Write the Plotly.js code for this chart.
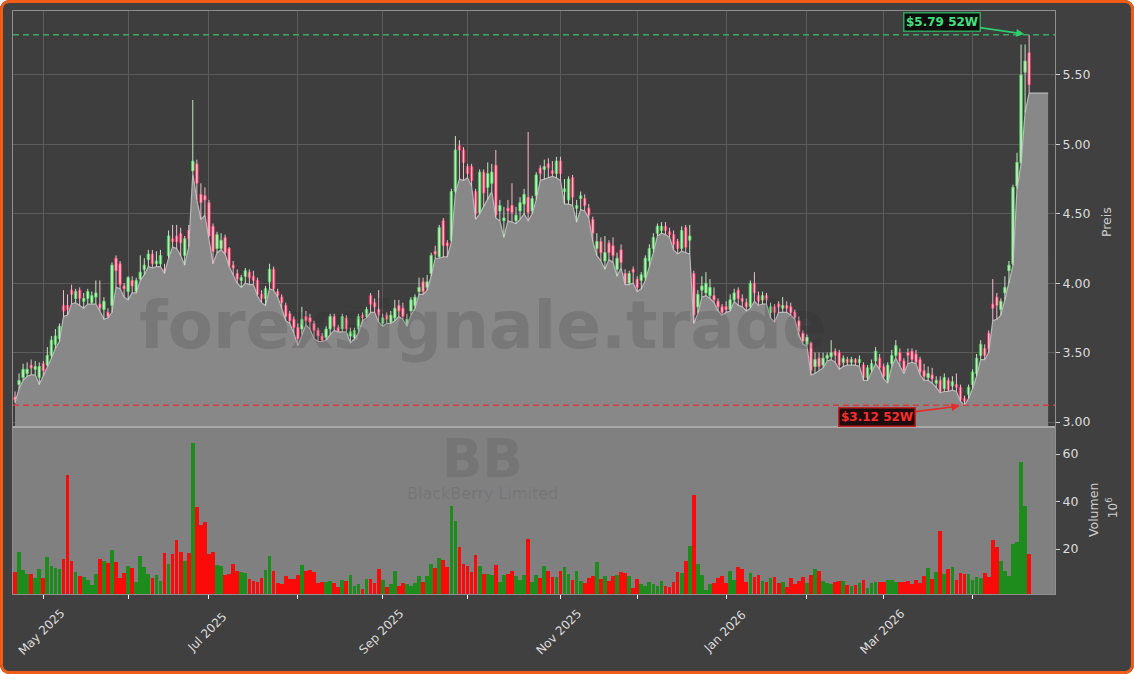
<!DOCTYPE html>
<html><head><meta charset="utf-8">
<script src="https://cdn.plot.ly/plotly-3.0.1.min.js"></script>
<style>
html,body{margin:0;padding:0;background:#ffffff;}
#wrap{position:relative;width:1134px;height:674px;border-radius:9px;overflow:hidden;}
#chart{width:1134px;height:674px;}
#frame{position:absolute;left:0;top:0;width:1134px;height:674px;box-sizing:border-box;border:3px solid #f25c14;border-radius:9px;pointer-events:none;}
</style>
</head><body>
<div id="wrap"><div id="chart"></div><div id="frame"></div></div>
<script>
// ---- data (BlackBerry Limited, daily, 2025-04-22 .. 2026-04-22) ----
const startDate = '2025-04-22';
const holidays = ['2025-05-26','2025-06-19','2025-07-04','2025-09-01','2025-11-27','2025-12-25','2026-01-01','2026-01-19','2026-02-16','2026-04-03'];

const openP = [3.18,3.27,3.32,3.35,3.41,3.38,3.32,3.42,3.41,3.48,
3.56,3.60,3.84,3.84,3.95,3.89,3.95,3.87,3.89,3.86,
3.90,3.85,3.81,3.79,3.84,4.18,4.14,3.98,3.94,4.02,
3.94,4.03,4.10,4.17,4.21,4.14,4.14,4.10,4.20,4.32,
4.34,4.36,4.20,4.38,4.81,4.86,4.64,4.63,4.58,4.41,
4.25,4.25,4.33,4.25,4.13,4.07,4.02,4.05,4.08,4.05,
4.02,3.92,3.89,4.01,4.10,3.94,3.90,3.84,3.78,3.74,
3.68,3.67,3.76,3.75,3.71,3.66,3.62,3.61,3.67,3.76,
3.68,3.67,3.75,3.62,3.61,3.67,3.77,3.76,3.91,3.86,
3.81,3.71,3.77,3.72,3.75,3.84,3.82,3.70,3.80,3.84,
3.94,4.01,3.97,4.07,4.23,4.19,4.45,4.29,4.31,4.66,
4.99,4.96,4.84,4.84,4.66,4.51,4.80,4.69,4.72,4.85,
4.52,4.45,4.54,4.56,4.45,4.52,4.57,4.62,4.52,4.63,
4.83,4.82,4.86,4.81,4.79,4.88,4.66,4.60,4.76,4.54,
4.61,4.61,4.54,4.46,4.25,4.30,4.16,4.29,4.27,4.10,
4.24,4.07,4.00,4.10,4.03,4.02,4.04,4.16,4.25,4.36,
4.38,4.41,4.37,4.35,4.30,4.25,4.40,4.31,4.07,3.83,
3.95,3.93,3.91,3.91,3.87,3.83,3.83,3.81,3.88,3.95,
3.89,3.86,3.83,4.00,3.91,3.88,3.91,3.79,3.83,3.85,
3.82,3.84,3.83,3.79,3.73,3.64,3.56,3.57,3.40,3.46,
3.41,3.46,3.47,3.51,3.50,3.43,3.45,3.43,3.45,3.43,
3.41,3.32,3.38,3.44,3.46,3.40,3.30,3.42,3.48,3.50,
3.44,3.50,3.51,3.49,3.45,3.37,3.32,3.34,3.28,3.30,
3.24,3.30,3.26,3.27,3.25,3.17,3.20,3.27,3.35,3.48,
3.53,3.64,3.85,3.90,3.81,3.93,4.09,4.14,4.70,4.87,
5.52,5.66];

const highP = [3.22,3.35,3.42,3.43,3.45,3.44,3.43,3.44,3.54,3.62,
3.67,3.71,3.95,3.92,3.99,3.96,3.97,3.93,3.96,3.94,
4.02,4.02,3.90,3.82,4.15,4.20,4.16,4.00,4.05,4.05,
4.04,4.20,4.18,4.24,4.24,4.23,4.24,4.14,4.38,4.42,
4.42,4.40,4.34,4.42,5.32,4.89,4.72,4.69,4.60,4.43,
4.37,4.36,4.35,4.26,4.16,4.10,4.06,4.11,4.10,4.09,
4.04,3.95,3.98,4.14,4.12,3.96,3.92,3.86,3.80,3.76,
3.71,3.83,3.80,3.78,3.73,3.68,3.64,3.69,3.78,3.78,
3.70,3.78,3.77,3.68,3.68,3.78,3.79,3.83,3.93,3.89,
3.95,3.78,3.79,3.80,3.88,3.88,3.86,3.78,3.90,3.92,
4.04,4.04,4.06,4.22,4.27,4.42,4.47,4.31,4.68,5.06,
5.03,4.98,4.86,4.86,4.68,4.82,4.82,4.87,4.86,4.96,
4.60,4.55,4.60,4.72,4.55,4.62,4.68,5.09,4.63,4.80,
4.85,4.89,4.90,4.88,4.91,4.91,4.75,4.77,4.78,4.60,
4.66,4.64,4.57,4.48,4.36,4.33,4.34,4.31,4.33,4.22,
4.28,4.10,4.09,4.12,4.05,4.08,4.20,4.28,4.36,4.43,
4.44,4.44,4.40,4.38,4.32,4.41,4.42,4.42,4.09,3.95,
4.05,4.08,4.03,3.97,3.89,3.85,3.87,3.92,3.96,3.97,
3.92,3.89,4.02,4.08,3.94,3.94,3.93,3.86,3.85,3.87,
3.90,3.87,3.86,3.81,3.76,3.66,3.63,3.58,3.50,3.50,
3.50,3.50,3.59,3.53,3.52,3.48,3.47,3.47,3.46,3.48,
3.43,3.41,3.45,3.54,3.49,3.42,3.43,3.52,3.59,3.53,
3.46,3.53,3.53,3.52,3.47,3.42,3.40,3.39,3.33,3.33,
3.35,3.32,3.33,3.35,3.27,3.19,3.27,3.38,3.49,3.59,
3.56,3.66,4.03,3.93,3.89,4.05,4.16,4.71,4.94,5.72,
5.72,5.79];

const lowP = [3.14,3.24,3.30,3.33,3.34,3.34,3.27,3.33,3.40,3.46,
3.53,3.58,3.76,3.77,3.85,3.86,3.84,3.82,3.85,3.85,
3.85,3.80,3.74,3.75,3.79,3.97,3.96,3.90,3.88,3.93,
3.93,4.02,4.06,4.12,4.11,4.12,4.12,4.07,4.18,4.26,
4.25,4.20,4.13,4.26,4.79,4.60,4.46,4.49,4.33,4.14,
4.22,4.24,4.21,4.12,4.06,4.00,3.97,4.00,3.99,3.99,
3.91,3.86,3.84,3.96,3.95,3.90,3.82,3.73,3.71,3.64,
3.55,3.63,3.70,3.67,3.60,3.58,3.58,3.59,3.63,3.66,
3.65,3.65,3.65,3.57,3.60,3.64,3.73,3.75,3.79,3.79,
3.72,3.69,3.71,3.71,3.73,3.76,3.74,3.69,3.77,3.82,
3.92,3.92,3.95,4.05,4.18,4.18,4.19,4.19,4.30,4.65,
4.75,4.74,4.76,4.70,4.46,4.50,4.55,4.60,4.66,4.47,
4.45,4.33,4.45,4.44,4.43,4.46,4.50,4.45,4.50,4.60,
4.74,4.75,4.76,4.77,4.76,4.74,4.57,4.57,4.56,4.44,
4.53,4.52,4.47,4.30,4.20,4.16,4.10,4.17,4.15,4.05,
4.11,3.99,3.99,4.00,3.94,3.96,4.02,4.12,4.22,4.34,
4.36,4.35,4.33,4.24,4.21,4.23,4.22,4.21,3.71,3.78,
3.90,3.91,3.89,3.86,3.80,3.77,3.79,3.80,3.87,3.84,
3.83,3.80,3.82,3.87,3.84,3.85,3.85,3.75,3.72,3.79,
3.79,3.79,3.77,3.74,3.63,3.56,3.55,3.34,3.35,3.37,
3.39,3.44,3.45,3.43,3.38,3.40,3.41,3.41,3.41,3.40,
3.30,3.30,3.36,3.42,3.38,3.31,3.28,3.40,3.46,3.40,
3.35,3.42,3.43,3.42,3.34,3.30,3.30,3.28,3.25,3.21,
3.22,3.22,3.23,3.22,3.15,3.12,3.17,3.24,3.33,3.45,
3.45,3.50,3.73,3.74,3.77,3.88,4.00,4.13,4.68,4.86,
5.23,5.37];

const closeP = [3.16,3.30,3.38,3.38,3.39,3.40,3.40,3.37,3.48,3.59,
3.62,3.69,3.80,3.81,3.92,3.94,3.89,3.89,3.94,3.91,
3.93,3.82,3.87,3.76,4.13,4.09,3.99,3.96,4.04,3.98,
4.02,4.08,4.13,4.21,4.14,4.16,4.20,4.08,4.34,4.30,
4.30,4.29,4.32,4.32,4.88,4.72,4.58,4.60,4.34,4.23,
4.35,4.31,4.22,4.13,4.11,4.03,4.04,4.09,4.04,4.02,
3.92,3.89,3.96,4.10,3.96,3.91,3.86,3.76,3.73,3.68,
3.60,3.74,3.73,3.72,3.66,3.62,3.59,3.67,3.76,3.69,
3.66,3.76,3.67,3.65,3.66,3.76,3.75,3.81,3.85,3.83,
3.77,3.75,3.74,3.77,3.82,3.80,3.76,3.74,3.88,3.90,
3.97,3.94,4.01,4.20,4.21,4.40,4.27,4.27,4.66,4.96,
4.96,4.87,4.79,4.74,4.50,4.80,4.65,4.79,4.80,4.49,
4.56,4.47,4.52,4.51,4.49,4.58,4.64,4.51,4.61,4.78,
4.79,4.84,4.83,4.79,4.88,4.79,4.68,4.75,4.62,4.56,
4.63,4.56,4.49,4.36,4.30,4.22,4.22,4.22,4.20,4.18,
4.15,4.00,4.07,4.08,3.97,4.06,4.18,4.25,4.33,4.41,
4.41,4.38,4.35,4.28,4.25,4.38,4.26,4.34,3.77,3.92,
3.98,4.00,3.97,3.88,3.83,3.79,3.81,3.88,3.93,3.89,
3.87,3.83,4.00,3.93,3.87,3.91,3.88,3.83,3.79,3.83,
3.84,3.82,3.79,3.75,3.65,3.58,3.61,3.37,3.45,3.40,
3.46,3.48,3.50,3.48,3.41,3.46,3.43,3.45,3.43,3.45,
3.32,3.39,3.42,3.51,3.39,3.33,3.41,3.48,3.55,3.44,
3.37,3.48,3.45,3.43,3.36,3.33,3.35,3.31,3.30,3.22,
3.32,3.23,3.29,3.25,3.16,3.15,3.25,3.36,3.46,3.56,
3.48,3.53,3.82,3.84,3.87,3.97,4.13,4.69,4.87,5.50,
5.60,5.43];

// volume in millions
const volume = [10.2,18.6,11.1,9.5,9.5,7.8,11.6,7.8,16.5,12.8,
12.1,11.6,15.8,51.1,14.9,10.2,8.6,8.1,6.9,4.8,
9.7,15.8,14.9,14.1,19.8,14.5,7.8,9.9,12.8,12.0,
6.0,17.0,12.4,9.5,7.8,9.0,6.5,18.3,13.7,17.9,
23.8,18.7,14.9,18.3,64.6,37.7,30.1,31.3,17.9,18.7,
13.2,12.8,9.0,9.5,13.7,10.7,10.3,9.9,7.4,6.7,
6.1,7.8,11.1,17.0,10.7,5.7,5.2,8.6,7.4,7.4,
9.0,13.2,10.7,11.1,10.3,5.7,6.1,6.1,6.5,5.7,
4.0,6.9,6.5,9.0,4.4,5.2,3.2,7.4,7.4,5.7,
11.6,6.9,4.0,5.2,10.7,4.4,5.7,5.2,4.4,5.7,
8.6,6.1,8.6,13.7,12.0,16.2,15.3,12.4,38.1,31.8,
20.8,13.7,12.8,10.3,17.5,12.8,9.5,9.5,9.0,13.2,
6.1,9.0,9.5,10.7,8.6,6.9,9.0,24.2,6.1,9.0,
7.8,12.8,10.7,8.2,8.2,10.7,12.4,9.5,6.9,10.7,
6.5,5.7,7.8,8.6,14.5,7.4,8.6,6.5,8.6,9.0,
10.3,9.9,8.6,3.6,7.4,5.2,4.4,6.1,5.2,4.4,
6.5,4.4,4.0,6.1,10.3,9.9,14.9,21.2,42.7,13.7,
9.0,2.7,5.2,5.7,7.8,8.6,5.7,10.7,6.9,12.4,
11.6,6.1,9.9,8.2,9.0,6.5,6.1,7.8,8.2,5.7,
6.1,4.0,7.8,5.2,6.5,8.2,5.7,9.0,11.6,10.7,
6.5,5.7,5.2,6.1,6.5,6.5,4.8,4.4,4.8,5.7,
6.9,3.6,5.7,6.1,6.1,6.1,6.9,6.9,6.1,6.1,
6.1,6.5,5.2,6.9,5.7,8.6,12.0,7.4,10.3,27.6,
9.5,11.6,12.4,6.9,9.9,9.5,9.5,6.9,8.2,7.8,
9.9,8.2,23.8,20.8,14.9,10.7,8.6,22.1,22.9,56.6,
38.1,17.9];

const ticker = 'BB';
const company = 'BlackBerry Limited';
const watermark = 'forexsignale.trade';

// ---- trading calendar (index-based x axis, like mplfinance) ----
function tradingDays(start, n) {
  const out = [];
  const d = new Date(start + 'T00:00:00Z');
  while (out.length < n) {
    const wd = d.getUTCDay();
    const s = d.toISOString().slice(0, 10);
    if (wd !== 0 && wd !== 6 && holidays.indexOf(s) < 0) out.push(s);
    d.setUTCDate(d.getUTCDate() + 1);
  }
  return out;
}
const N = closeP.length;
const dates = tradingDays(startDate, N);
const idx = dates.map((_, i) => i);
const monthNames = ['Jan','Feb','Mar','Apr','May','Jun','Jul','Aug','Sep','Oct','Nov','Dec'];
const tickVals = [], tickText = [];
for (let i = 1; i < N; i++) {
  if (dates[i].slice(5, 7) !== dates[i - 1].slice(5, 7)) {
    const m = parseInt(dates[i].slice(5, 7), 10) - 1;
    tickVals.push(i);
    tickText.push(m % 2 === 0 ? monthNames[m] + ' ' + dates[i].slice(0, 4) : '');
  }
}

// ---- styling ----
const BG = '#404040', PLOTBG = '#3e3e3e', GRID = '#5b5b5b', SPINE = '#8f8f8f', TXT = '#dcdcdc';
const UP_EDGE = '#3fc34f', UP_FILL = '#c9f2c9', DN_EDGE = '#e8305c', DN_FILL = '#f6b4c6';
const UP_WICK = '#c4e4c4', DN_WICK = '#f0bccb';
const VOL_UP = '#1d8c1d', VOL_DN = '#fb0a0a';
const FONT = 'DejaVu Sans, sans-serif';

const up = idx.map(i => closeP[i] >= openP[i]);

// area (lows) extended to the right edge of the drawn band
const areaEnd = 255.7;
const areaX = idx.concat([areaEnd]);
const areaY = lowP.concat([lowP[N - 1]]);

function wicks(sel) {
  const x = [], y = [];
  idx.forEach(i => { if (up[i] === sel) { x.push(i, i, null); y.push(lowP[i], highP[i], null); } });
  return {x, y};
}
function bodies(sel) {
  const x = [], base = [], h = [];
  idx.forEach(i => {
    if (up[i] === sel) {
      x.push(i);
      base.push(Math.min(openP[i], closeP[i]));
      h.push(Math.max(Math.abs(closeP[i] - openP[i]), 0.006));
    }
  });
  return {x, base, h};
}
const wu = wicks(true), wd = wicks(false), bu = bodies(true), bd = bodies(false);

const traces = [
  {type:'scatter', mode:'lines', x: areaX, y: areaY, fill:'tozeroy', fillcolor:'#888888',
   line:{color:'#b8b8b8', width:1.2}, xaxis:'x', yaxis:'y', hoverinfo:'skip', showlegend:false},
  {type:'scatter', mode:'lines', x: wu.x, y: wu.y, line:{color:UP_WICK, width:1}, xaxis:'x', yaxis:'y', showlegend:false, hoverinfo:'skip'},
  {type:'scatter', mode:'lines', x: wd.x, y: wd.y, line:{color:DN_WICK, width:1}, xaxis:'x', yaxis:'y', showlegend:false, hoverinfo:'skip'},
  {type:'bar', x: bu.x, y: bu.h, base: bu.base, width:0.62, marker:{color:UP_FILL, line:{color:UP_EDGE, width:1}}, xaxis:'x', yaxis:'y', showlegend:false},
  {type:'bar', x: bd.x, y: bd.h, base: bd.base, width:0.62, marker:{color:DN_FILL, line:{color:DN_EDGE, width:1}}, xaxis:'x', yaxis:'y', showlegend:false},
  {type:'bar', x: idx, y: volume, width:0.92, marker:{color: idx.map(i => up[i] ? VOL_UP : VOL_DN), line:{width:0}},
   xaxis:'x2', yaxis:'y2', showlegend:false}
];

const hi = Math.max.apply(null, highP), lo = Math.min.apply(null, lowP);
const hiI = highP.indexOf(hi), loI = lowP.indexOf(lo);

const xr = [-0.5, 257.4];
const volDom = 0.2864;

const annotations = [
  {xref:'paper', yref:'paper', x:0.451, y:0.4614, xanchor:'center', yanchor:'middle', text:watermark, showarrow:false,
   font:{family:FONT, size:66, color:'rgba(40,40,40,0.17)', weight:'bold'}},
  {xref:'paper', yref:'paper', x:0.451, y:0.2316, xanchor:'center', yanchor:'middle', text:ticker, showarrow:false,
   font:{family:FONT, size:53, color:'rgba(40,40,40,0.12)', weight:'bold'}},
  {xref:'paper', yref:'paper', x:0.451, y:0.172, xanchor:'center', yanchor:'middle', text:company, showarrow:false,
   font:{family:FONT, size:16, color:'rgba(40,40,40,0.12)'}},
  {xref:'paper', yref:'paper', x:1.049, y:0.638, xanchor:'center', yanchor:'middle', text:'Preis', showarrow:false, textangle:-90,
   font:{family:FONT, size:12.5, color:'#cfcfcf'}},
  {xref:'paper', yref:'paper', x:1.0365, y:0.144, xanchor:'center', yanchor:'middle', text:'Volumen', showarrow:false, textangle:-90,
   font:{family:FONT, size:12.5, color:'#cfcfcf'}},
  {xref:'paper', yref:'paper', x:1.0547, y:0.149, xanchor:'center', yanchor:'middle', text:'10<sup>6</sup>', showarrow:false, textangle:-90,
   font:{family:FONT, size:12, color:'#cfcfcf'}},
  {xref:'x', yref:'y', x:hiI, y:hi, ax:-87.5, ay:-12.6, text:'<b>$' + hi.toFixed(2) + ' 52W</b>',
   showarrow:true, arrowhead:2, arrowsize:1, arrowwidth:1.6, arrowcolor:'#2fcf6a', standoff:5,
   font:{family:FONT, size:12, color:'#41e07f'}, bgcolor:'#0c0c0c', bordercolor:'#2fa35a', borderwidth:1.5, borderpad:1.5},
  {xref:'x', yref:'y', x:loI, y:lo, ax:-87.4, ay:11.2, text:'<b>$' + lo.toFixed(2) + ' 52W</b>',
   showarrow:true, arrowhead:2, arrowsize:1, arrowwidth:1.6, arrowcolor:'#e82a2a', standoff:5,
   font:{family:FONT, size:12, color:'#ff2e2e'}, bgcolor:'#1e0c0c', bordercolor:'#c42121', borderwidth:1.5, borderpad:1.5}
];
// month labels, centred under their ticks and rotated 45 degrees
tickVals.forEach((v, k) => {
  if (tickText[k]) annotations.push({xref:'x2', yref:'paper', x:v - 0.4, y:-0.0652, xanchor:'center', yanchor:'middle',
    text:tickText[k], showarrow:false, textangle:-45, font:{family:FONT, size:12, color:TXT}});
});

const layout = {
  width:1134, height:674,
  paper_bgcolor: BG, plot_bgcolor: PLOTBG,
  margin:{l:13, r:79, t:11, b:80},
  barmode:'overlay', bargap:0,
  showlegend:false,
  font:{family:FONT, color:TXT, size:12},
  xaxis:{domain:[0,1], anchor:'y', range:xr, tickmode:'array', tickvals:tickVals,
    showticklabels:false, ticks:'', showgrid:true, gridcolor:GRID, gridwidth:1, zeroline:false,
    showline:true, mirror:true, linecolor:SPINE, linewidth:1},
  yaxis:{domain:[volDom,1], anchor:'x', side:'right', range:[2.964, 5.961], tickmode:'array',
    tickvals:[3.0,3.5,4.0,4.5,5.0,5.5], ticktext:['3.00','3.50','4.00','4.50','5.00','5.50'],
    ticks:'outside', ticklen:4, tickcolor:'#cfcfcf', tickfont:{size:12.5, color:TXT},
    showgrid:true, gridcolor:GRID, gridwidth:1, zeroline:false,
    showline:true, mirror:true, linecolor:SPINE, linewidth:1},
  xaxis2:{domain:[0,1], anchor:'y2', range:xr, tickmode:'array', tickvals:tickVals,
    showticklabels:false, ticks:'outside', ticklen:4, tickcolor:'#ffffff',
    showgrid:false, zeroline:false, showline:true, mirror:true, linecolor:SPINE, linewidth:1},
  yaxis2:{domain:[0,volDom], anchor:'x2', side:'right', range:[1.1, 71.4], tickmode:'array',
    tickvals:[20,40,60], ticks:'outside', ticklen:4, tickcolor:'#cfcfcf', tickfont:{size:12.5, color:TXT},
    showgrid:false, zeroline:false, showline:true, mirror:true, linecolor:SPINE, linewidth:1},
  shapes:[
    {type:'rect', xref:'x2 domain', yref:'y2 domain', x0:0, x1:1, y0:0, y1:1, fillcolor:'#808080', line:{width:0}, layer:'below'},
    {type:'line', xref:'x domain', yref:'y', x0:0, x1:1, y0:hi, y1:hi, line:{color:'#3aa765', width:1.5, dash:'6px,4px'}},
    {type:'line', xref:'x domain', yref:'y', x0:0, x1:1, y0:lo, y1:lo, line:{color:'#d83b3b', width:1.5, dash:'6px,4px'}},
    {type:'line', xref:'paper', yref:'paper', x0:0, x1:1, y0:volDom, y1:volDom, line:{color:'#a9a9a9', width:2}}
  ],
  annotations: annotations
};

Plotly.newPlot('chart', traces, layout, {displayModeBar:false, staticPlot:true});
</script>
</body></html>
